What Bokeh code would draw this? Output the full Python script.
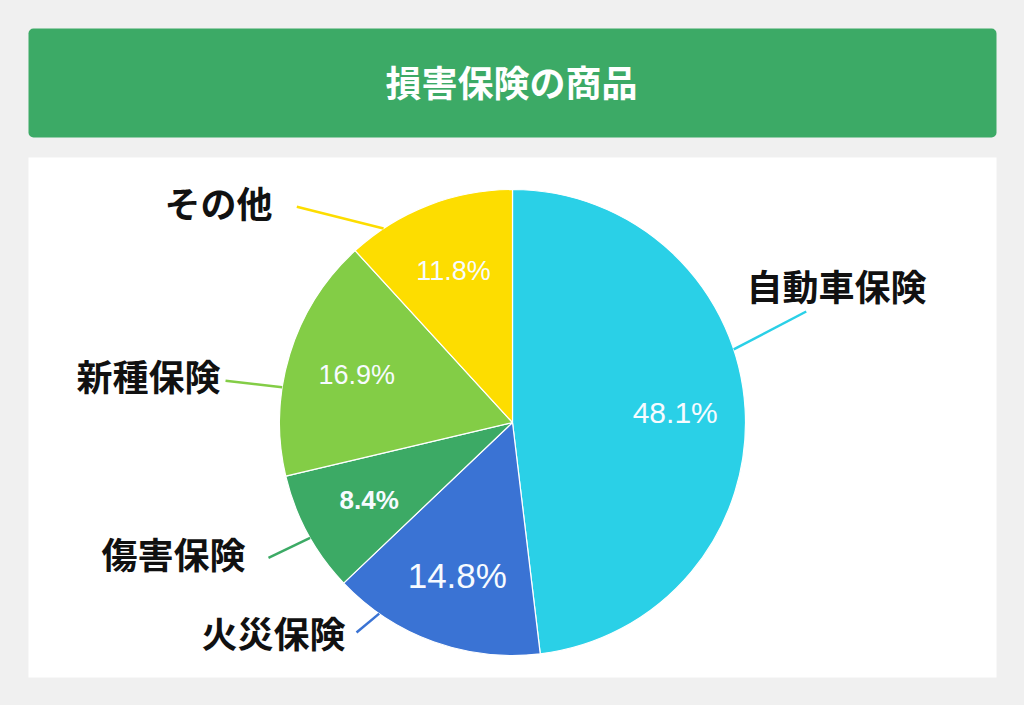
import math
from bokeh.plotting import figure
from bokeh.models import Range1d, BoxAnnotation, ColumnDataSource
from bokeh.core.properties import value
from bokeh.embed import file_html
from bokeh.resources import INLINE

# ---- data ----
title = "損害保険の商品"
categories = ["自動車保険", "火災保険", "傷害保険", "新種保険", "その他"]
shares = [48.1, 14.8, 8.4, 16.9, 11.8]
colors = ["#2ad0e7", "#3a73d4", "#3caa65", "#83cd46", "#fddd00"]

# ---- layout (pixel space of the 1024x705 page) ----
W, H = 1024, 705
def Y(py):
    return 705 - py

cx, cy, R = 512, Y(422), 233
pct_r = 163
pct_sizes = ["30px", "35px", "26px", "27px", "27px"]
pct_styles = ["normal", "normal", "bold", "normal", "normal"]
leader_a0 = [18.3, -124.9, -150.3, 171.3, 123.6]
leader_a1 = [20.7, -126.6, -151.0, 171.7, 135.0]
leader_r1 = [314, 261.6, 279, 290, 305]
label_px = [746, 345, 245, 220, 272]
label_py = [284, 631, 552, 374, 201]
label_align = ["left", "right", "right", "right", "right"]

p = figure(width=W, height=H, x_range=Range1d(0, 1024), y_range=Range1d(0, 705),
           output_backend="svg", toolbar_location=None, min_border=0,
           background_fill_color="#f0f0f0", border_fill_color="#f0f0f0")
p.axis.visible = False
p.grid.visible = False
p.outline_line_color = None

# header and panel
p.add_layout(BoxAnnotation(left=28, right=996, top=Y(28), bottom=Y(137),
                           fill_color="#3caa66", fill_alpha=1, line_color=None,
                           border_radius=5, level="underlay"))
p.add_layout(BoxAnnotation(left=28, right=996, top=Y(157), bottom=Y(677),
                           fill_color="#ffffff", fill_alpha=1, line_color=None,
                           level="underlay"))
p.text(x=[511], y=[Y(80)], text=[title], text_color="#ffffff",
       text_font=value("Noto Sans CJK JP"), text_font_size="36px",
       text_font_style="bold", text_align="center", text_baseline="middle")

# wedges
starts, ends, mids = [], [], []
cum = 0.0
for s in shares:
    a_start = math.radians(90 - cum / 100 * 360)
    cum += s
    a_end = math.radians(90 - cum / 100 * 360)
    starts.append(a_start)
    ends.append(a_end)
    mids.append((a_start + a_end) / 2)

src = ColumnDataSource(dict(start=starts, end=ends, color=colors))
p.wedge(x=cx, y=cy, radius=R, start_angle="start", end_angle="end",
        direction="clock", fill_color="color", line_color="#ffffff",
        line_width=1.2, source=src)

# percentage labels
pct = ColumnDataSource(dict(
    x=[cx + pct_r * math.cos(m) for m in mids],
    y=[cy + pct_r * math.sin(m) for m in mids],
    t=[f"{s:.1f}%" for s in shares],
    size=pct_sizes, style=pct_styles))
p.text(x="x", y="y", text="t", source=pct, text_color="#f7fbff",
       text_font=value("Liberation Sans"), text_font_size="size",
       text_font_style="style", text_align="center", text_baseline="middle")

# leader lines
xs, ys = [], []
for a0, a1, r1 in zip(leader_a0, leader_a1, leader_r1):
    xs.append([cx + R * math.cos(math.radians(a0)), cx + r1 * math.cos(math.radians(a1))])
    ys.append([cy + R * math.sin(math.radians(a0)), cy + r1 * math.sin(math.radians(a1))])
p.multi_line(xs=xs, ys=ys, line_color=colors, line_width=2.5)

# category labels
lab = ColumnDataSource(dict(x=label_px, y=[Y(v) for v in label_py],
                            t=categories, align=label_align))
p.text(x="x", y="y", text="t", source=lab, text_color="#111111",
       text_font=value("Noto Sans CJK JP"), text_font_size="36px",
       text_font_style="bold", text_align="align", text_baseline="middle")

html = file_html(p, INLINE)
html = html.replace("</head>", "<style>body{background:#f0f0f0;}</style></head>", 1)
open("out.html", "w").write(html)
